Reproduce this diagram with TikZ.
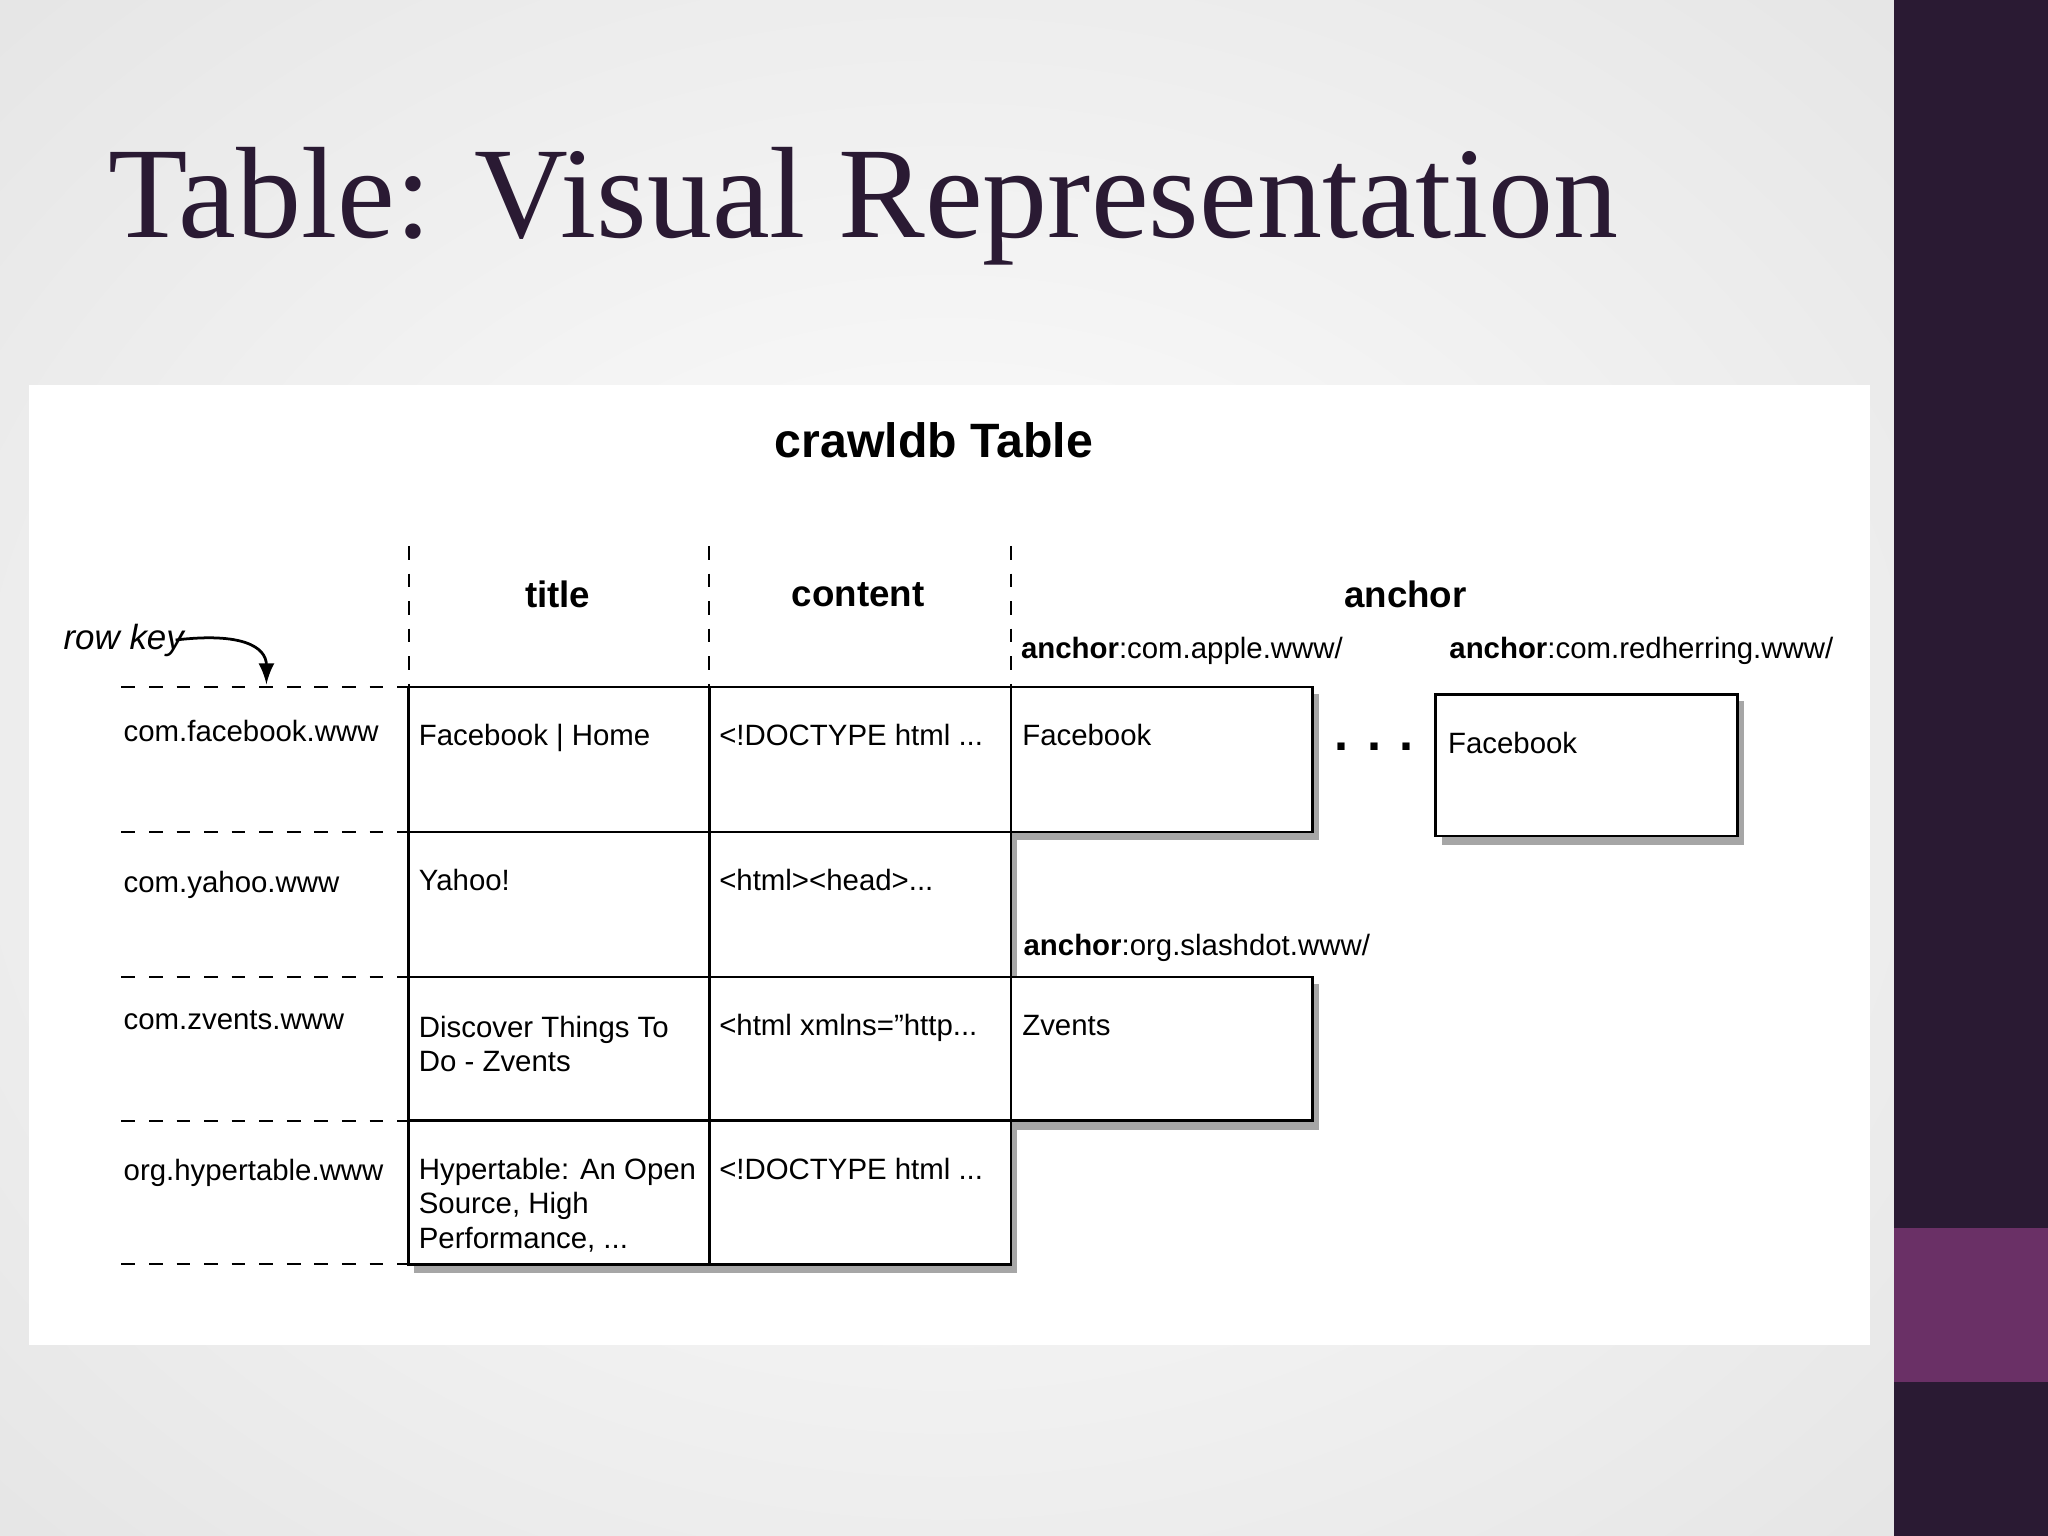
\documentclass[tikz,border=0pt]{standalone}
\usepackage{fontspec}
\setmainfont{Liberation Serif}
\setsansfont[Ligatures=NoCommon]{Liberation Sans}
\begin{document}
\begin{tikzpicture}[x=0.01cm,y=-0.01cm,
  cell/.style={font=\sffamily\fontsize{6.4}{7.5}\selectfont,anchor=north west,align=left,inner sep=0pt},
  hdr/.style={font=\sffamily\bfseries\fontsize{8}{9}\selectfont},
  box/.style={draw=black,line width=0.6pt,fill=white},
  shad/.style={fill=black!35},
  dl/.style={dashed,line width=0.5pt}]
\useasboundingbox (0,0) rectangle (1568,1176);
\shade[inner color=white,outer color=black!10] (-300,-250) rectangle (1750,1426);
\fill[fill={rgb,255:red,42;green,26;blue,51}] (1450,0) rectangle (1568,1176);
\fill[fill={rgb,255:red,106;green,48;blue,102}] (1450,940) rectangle (1568,1058);
\node[anchor=base west,inner sep=0pt,text={rgb,255:red,42;green,26;blue,51},font=\fontsize{28.3}{32}\selectfont] (title) at (82,182) {Table: Visual Representation};
\fill[white] (22,295) rectangle (1432,1030);
\node[font=\sffamily\bfseries\fontsize{10.5}{12}\selectfont] (ct) at (715,337) {crawldb Table};
% shadows
\fill[shad] (317,531) rectangle (779,975);
\fill[shad] (779,531) rectangle (1010,643);
\fill[shad] (779,753) rectangle (1010,865);
\fill[shad] (1104,537) rectangle (1335,647);
% cells
\foreach \x/\xx in {313/543,543/774}{\foreach \y/\yy in {526/637,637/748,748/858,858/968}{\draw[box] (\x,\y) rectangle (\xx,\yy);}}
\draw[box] (774,526) rectangle (1005,637);
\draw[box] (774,748) rectangle (1005,858);
\draw[box] (1099,532) rectangle (1330,640);
% dashed
\foreach \x in {313,543,774}{\draw[dl] (\x,418) -- (\x,526);}
\foreach \y in {526,637,748,858,968}{\draw[dl] (93,\y) -- (313,\y);}
\node[hdr] (h1) at (427,455) {title};
\node[hdr] (h2) at (657,455) {content};
\node[hdr] (h3) at (1076,455) {anchor};
\node[cell,anchor=west] (a1) at (781,498) {\textbf{anchor}:com.apple.www/};
\node[cell,anchor=west] (a2) at (1109,498) {\textbf{anchor}:com.redherring.www/};
\node[cell,anchor=west] (a3) at (783,726) {\textbf{anchor}:org.slashdot.www/};
\node[font=\sffamily\bfseries\fontsize{11}{12}\selectfont] (dots) at (1052,572) {. . .};
\node[cell] (k1) at (94,551) {com.facebook.www};
\node[cell] (k2) at (94,666) {com.yahoo.www};
\node[cell] (k3) at (94,773) {com.zvents.www};
\node[cell] (k4) at (94,887) {org.hypertable.www};
\node[cell] (t1) at (320,554) {Facebook | Home};
\node[cell] (t2) at (320,665) {Yahoo!};
\node[cell] (t3) at (320,777) {Discover Things To\\Do - Zvents};
\node[cell] (t4) at (320,886) {Hypertable: An Open\\Source, High\\Performance, ...};
\node[cell] (c1) at (550,554) {<!DOCTYPE html ...};
\node[cell] (c2) at (550,665) {<html><head>...};
\node[cell] (c3) at (550,776) {<html xmlns=\char"0022 http...};
\node[cell] (c4) at (550,886) {<!DOCTYPE html ...};
\node[cell] (f1) at (782,554) {Facebook};
\node[cell] (f2) at (1108,560) {Facebook};
\node[cell] (z1) at (782,777) {Zvents};
\node[cell,anchor=west,font=\sffamily\itshape\fontsize{7.6}{9}\selectfont] (rk) at (48,490) {row key};
\coordinate (rkend) at (204,524);
\draw[-latex,line width=0.6pt] ([xshift=-2]rk.east) .. controls (185,484) and (204,495) .. (rkend);
\end{tikzpicture}
\end{document}
